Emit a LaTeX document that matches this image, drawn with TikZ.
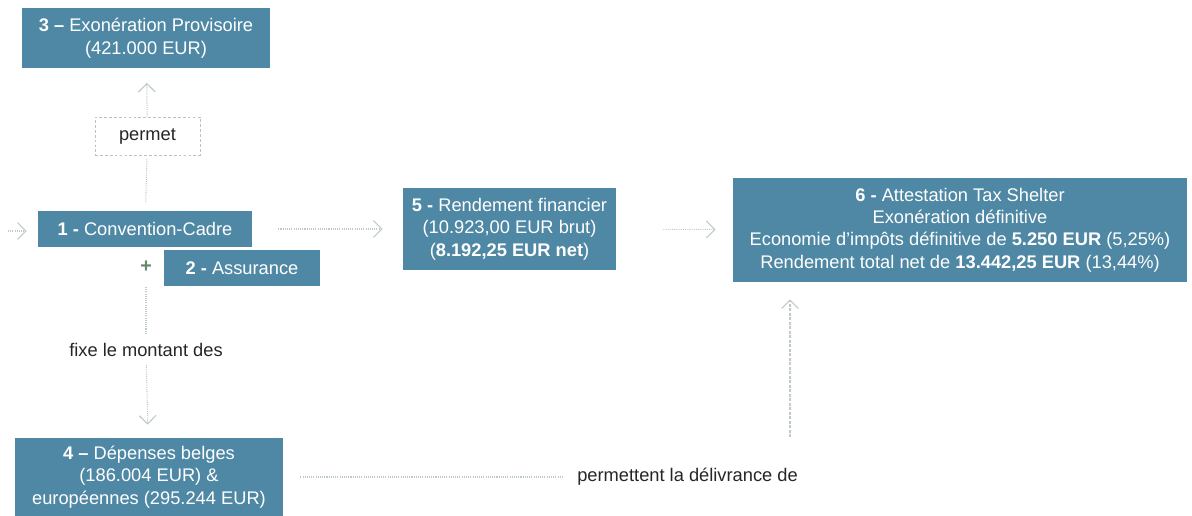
\documentclass[tikz,border=0pt]{standalone}
\usepackage{fontspec}
\setmainfont{Liberation Sans}
\usetikzlibrary{arrows.meta}
\definecolor{boxblue}{RGB}{79,136,164}
\definecolor{linkgray}{RGB}{190,203,197}
\definecolor{plusgreen}{RGB}{104,134,104}

\begin{document}
\begin{tikzpicture}[x=0.025cm,y=-0.025cm,
  box/.style={fill=boxblue,text=white,align=center,inner sep=0pt,font=\fontsize{13}{15.9}\selectfont},
  lbl/.style={text=black!85,align=center,inner sep=0pt,font=\fontsize{13}{15.9}\selectfont},
  link/.style={draw=linkgray,line width=0.75pt,dash pattern=on 0.75pt off 0.8pt},
  tip/.style={-{Straight Barb[length=6pt,width=12pt,line width=0.8pt]}}]
\useasboundingbox (0,0) rectangle (1192,515);

% boxes
\node[box,minimum width=6.2cm,minimum height=1.475cm] (exon) at (146,38)
  {\textbf{3 –} Exonération Provisoire\\(421.000 EUR)};
\node[draw=black!25,dash pattern=on 2pt off 1.5pt,lbl,minimum width=2.625cm,minimum height=0.95cm] (perm) at (147.5,136) {permet};
\node[box,minimum width=5.35cm,minimum height=0.9cm] (conv) at (145,229) {\textbf{1 -} Convention-Cadre};
\node[box,minimum width=3.9cm,minimum height=0.9cm] (assur) at (242,268) {\textbf{2 -} Assurance};
\node[text=plusgreen,font=\bfseries\fontsize{14}{14}\selectfont,inner sep=0pt] (plus) at (146,267) {+};
\node[lbl] (fixe) at (146,350) {fixe le montant des};
\node[box,minimum width=6.7cm,minimum height=1.95cm] (dep) at (149,477)
  {\textbf{4 –} Dépenses belges\\(186.004 EUR) \&\\européennes (295.244 EUR)};
\node[box,minimum width=5.325cm,minimum height=2.05cm] (rend) at (509.5,229)
  {\textbf{5 -} Rendement financier\\(10.923,00 EUR brut)\\(\textbf{8.192,25 EUR net})};
\node[box,minimum width=11.35cm,minimum height=2.6cm] (attest) at (960,230)
  {\textbf{6 -} Attestation Tax Shelter\\Exonération définitive\\
   Economie d’impôts définitive de \textbf{5.250 EUR} (5,25\%)\\
   Rendement total net de \textbf{13.442,25 EUR} (13,44\%)};
\node[lbl,anchor=west] (deliv) at (577,477) {permettent la délivrance de};
\coordinate (entry) at (8,231);
\coordinate (up) at (790,437);

% connectors
\draw[link,tip,shorten >=0.375cm] (perm) -- (exon);
\draw[link,shorten <=0.225cm,shorten >=0.075cm] (conv) -- (perm);
\draw[link,tip,shorten >=0.275cm] (entry) -- (entry -| conv.west);
\draw[link,tip,shorten <=0.65cm,shorten >=0.5cm] (conv) -- (rend);
\draw[link,tip,shorten <=1.175cm,shorten >=0.425cm] (rend) -- (attest);
\draw[link,shorten <=0.35cm,shorten >=0.25cm] (plus) -- (fixe);
\draw[link,tip,shorten <=0.2cm,shorten >=0.325cm] (fixe) -- (dep);
\draw[link,shorten <=0.425cm,shorten >=0.375cm] (dep.east |- deliv) -- (deliv);
\draw[link,dash pattern=on 2pt off 1.2pt,tip,shorten >=0.425cm] (up) -- (up |- attest.south);
\end{tikzpicture}
\end{document}
